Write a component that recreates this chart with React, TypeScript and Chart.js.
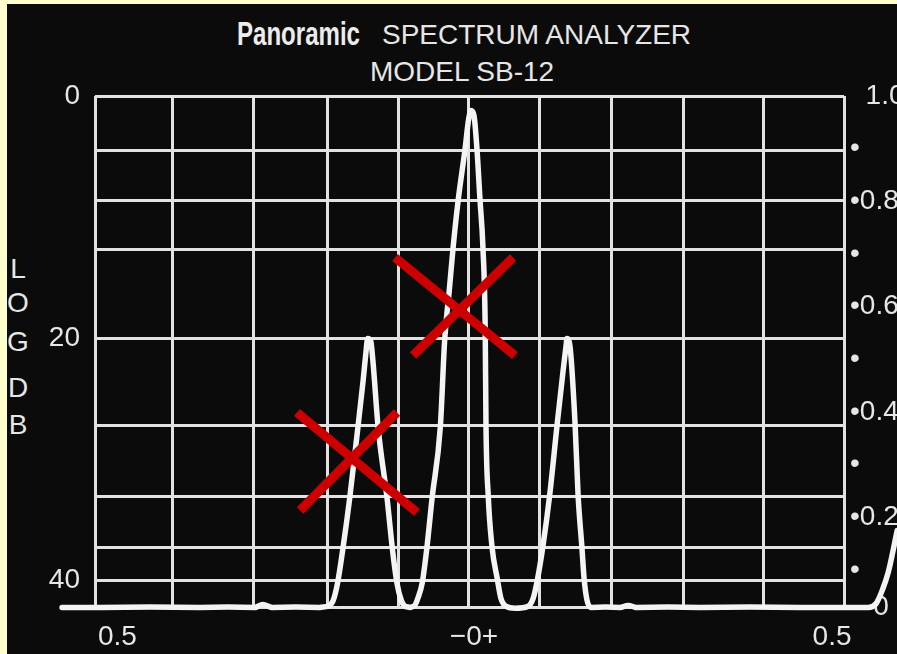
import React, { useEffect, useRef } from 'react';
import { Chart, registerables } from 'chart.js';

Chart.register(...registerables);

// Horizontal axis: frequency offset, -0.5 … +0.5 across the graticule
const gridX = [-0.5, -0.397, -0.289, -0.19, -0.095, -0.002, 0.094, 0.189, 0.286, 0.392, 0.5];
const bottomLabelX = [-0.47, 0.006, 0.484];
const bottomLabels = ['0.5', '\u22120+', '0.5'];

// Left axis: LOG DB (0 at top, 40 near bottom)
const dbMin = 0;
const dbMax = 42.2;
const gridDb = [0, 4.54, 8.59, 12.68, 20, 27.25, 33.11, 37.28, 40, 42.2];
const dbLabels = ['0', '', '', '', '20', '', '', '', '40', ''];

// Right axis: linear amplitude
const ampMin = 0.03;
const ampMax = 1.0;
const ampTicks = [0.03, 0.1, 0.2, 0.3, 0.4, 0.5, 0.6, 0.7, 0.8, 0.9, 1.0];
const ampLabels = ['   0', '\u2022', '\u20220.2', '\u2022', '\u20220.4', '\u2022', '\u20220.6', '\u2022', '\u20220.8', '\u2022', '  1.0'];

// Spectrum trace (x offset, dB down)
const traceX = [
  -0.544, -0.493, -0.36, -0.286, -0.276, -0.264, -0.2, -0.189, -0.182, -0.176,
  -0.169, -0.16, -0.149, -0.142, -0.138, -0.136, -0.132, -0.129, -0.122, -0.11,
  -0.103, -0.097, -0.091, -0.086, -0.079, -0.073, -0.069, -0.063, -0.057, -0.05,
  -0.039, -0.033, -0.027, -0.022, -0.015, -0.006, -0.001, 0.002, 0.006, 0.01,
  0.014, 0.018, 0.021, 0.022, 0.025, 0.03, 0.037, 0.042, 0.049, 0.061,
  0.078, 0.085, 0.091, 0.098, 0.107, 0.117, 0.125, 0.129, 0.13, 0.134,
  0.141, 0.145, 0.15, 0.153, 0.157, 0.162, 0.201, 0.212, 0.222, 0.308,
  0.441, 0.532, 0.543, 0.551, 0.559, 0.565, 0.571,
];
const traceDb = [
  42.24, 42.24, 42.24, 42.24, 41.99, 42.24, 42.24, 42.15, 41.66, 40.17,
  37.37, 33.24, 27.37, 23.49, 21.02, 20.02, 20.19, 21.84, 27.37, 33.24,
  37.37, 40.17, 41.66, 42.15, 42.24, 42.07, 41.49, 40.17, 37.37, 33.24,
  27.37, 20.02, 16.06, 12.59, 8.55, 4.42, 1.86, 1.2, 1.61, 4.42,
  8.55, 12.59, 19.36, 27.13, 32.99, 37.2, 39.84, 41.49, 42.15, 42.3,
  42.15, 41.49, 39.84, 37.2, 32.99, 27.13, 22.67, 20.6, 20.02, 20.6,
  27.13, 32.99, 37.2, 39.84, 41.66, 42.24, 42.24, 42.07, 42.24, 42.24,
  42.24, 42.24, 41.91, 40.83, 39.35, 37.7, 35.88,
];

// Red "X" marks drawn over the screen (two strokes each)
const markX = [
  [-0.0995, 0.0607],
  [0.0581, -0.0754],
  [-0.2303, -0.0701],
  [-0.0968, -0.2263],
];
const markDb = [
  [13.34, 21.43],
  [13.34, 21.43],
  [26.14, 34.39],
  [26.14, 34.23],
];

const FONT = "'Liberation Sans', Arial, sans-serif";
const TEXT = '#e6e6e6';
const GRID = '#e2e2e2';

export default function App() {
  const ref = useRef<HTMLCanvasElement>(null);

  useEffect(() => {
    if (!ref.current) return;
    const font = { family: FONT, size: 28 };
    const nGrid = gridX.length;
    const chart = new Chart(ref.current, {
      type: 'line',
      data: {
        datasets: [
          ...markX.map((xs, i) => ({
            data: xs.map((x, j) => ({ x, y: markDb[i][j] })),
            borderColor: '#cc0000',
            borderWidth: 9,
            borderCapStyle: 'butt' as const,
            pointRadius: 0,
            tension: 0,
            clip: false as const,
            xAxisID: 'x',
            yAxisID: 'y',
          })),
          {
            data: traceX.map((x, i) => ({ x, y: traceDb[i] })),
            borderColor: '#f4f4f4',
            borderWidth: 5.5,
            borderCapStyle: 'round' as const,
            borderJoinStyle: 'round' as const,
            pointRadius: 0,
            cubicInterpolationMode: 'monotone' as const,
            clip: false as const,
            xAxisID: 'x',
            yAxisID: 'y',
          },
        ],
      },
      options: {
        responsive: false,
        animation: false,
        devicePixelRatio: 1,
        layout: { padding: { top: 96, left: 0, right: 0, bottom: 0 } },
        plugins: {
          legend: { display: false },
          tooltip: { enabled: false },
          title: { display: false },
        },
        scales: {
          x: {
            type: 'linear',
            position: 'bottom',
            bounds: 'data',
            afterDataLimits: (s: any) => {
              s.min = -0.5;
              s.max = 0.5;
            },
            afterBuildTicks: (s: any) => {
              s.ticks = [...gridX.map((v) => ({ value: v })), ...bottomLabelX.map((v) => ({ value: v }))];
            },
            afterFit: (s: any) => {
              s.height = 47;
            },
            grid: {
              color: (c: any) => (c.index < nGrid ? GRID : 'rgba(0,0,0,0)'),
              lineWidth: 3,
              drawTicks: false,
            },
            border: { display: false },
            ticks: {
              autoSkip: false,
              maxRotation: 0,
              minRotation: 0,
              padding: 13,
              color: TEXT,
              font,
              callback: (_v: any, i: number) => (i < nGrid ? '' : bottomLabels[i - nGrid]),
            },
          },
          y: {
            type: 'linear',
            position: 'left',
            reverse: true,
            min: dbMin,
            max: dbMax,
            bounds: 'data',
            afterBuildTicks: (s: any) => {
              s.ticks = gridDb.map((v) => ({ value: v }));
            },
            afterFit: (s: any) => {
              s.width = 95;
            },
            grid: { color: GRID, lineWidth: 3, drawTicks: false },
            border: { display: false },
            ticks: {
              autoSkip: false,
              padding: 15,
              color: TEXT,
              font,
              callback: (_v: any, i: number) => dbLabels[i],
            },
          },
          y1: {
            type: 'linear',
            position: 'right',
            min: ampMin,
            max: ampMax,
            bounds: 'data',
            afterBuildTicks: (s: any) => {
              s.ticks = ampTicks.map((v) => ({ value: v }));
            },
            afterFit: (s: any) => {
              s.width = 53;
            },
            grid: { display: false, drawTicks: false, drawOnChartArea: false },
            border: { display: false },
            ticks: {
              autoSkip: false,
              padding: 6,
              color: TEXT,
              font,
              callback: (_v: any, i: number) => ampLabels[i],
            },
          },
        },
      },
    } as any);
    return () => chart.destroy();
  }, []);

  const letter = (ch: string, baseline: number) => (
    <div
      key={ch + baseline}
      style={{
        position: 'absolute',
        left: 3,
        width: 30,
        top: baseline - 23.7,
        textAlign: 'center',
        fontFamily: FONT,
        fontSize: 28,
        lineHeight: 1,
        color: TEXT,
      }}
    >
      {ch}
    </div>
  );

  return (
    <div style={{ position: 'fixed', left: 0, top: 0, width: 897, height: 654, background: '#ffffcc', overflow: 'hidden' }}>
      <div style={{ position: 'absolute', left: 7, top: 4, width: 890, height: 650, background: '#0b0b0b' }} />
      <div
        style={{
          position: 'absolute',
          left: 237,
          top: 18,
          fontFamily: FONT,
          fontWeight: 700,
          fontSize: 32.5,
          lineHeight: 1,
          color: '#ececec',
          transform: 'scaleX(0.74)',
          transformOrigin: 'left top',
          whiteSpace: 'nowrap',
        }}
      >
        Panoramic
      </div>
      <div
        style={{
          position: 'absolute',
          left: 382,
          top: 21.3,
          fontFamily: FONT,
          fontSize: 28,
          lineHeight: 1,
          color: TEXT,
          whiteSpace: 'nowrap',
        }}
      >
        SPECTRUM ANALYZER
      </div>
      <div
        style={{
          position: 'absolute',
          left: 370,
          top: 57.5,
          fontFamily: FONT,
          fontSize: 28,
          lineHeight: 1,
          color: TEXT,
          whiteSpace: 'nowrap',
        }}
      >
        MODEL SB-12
      </div>
      {letter('L', 279)}
      {letter('O', 313)}
      {letter('G', 352)}
      {letter('D', 398)}
      {letter('B', 435)}
      <canvas ref={ref} width={897} height={654} style={{ position: 'absolute', left: 0, top: 0 }} />
    </div>
  );
}
